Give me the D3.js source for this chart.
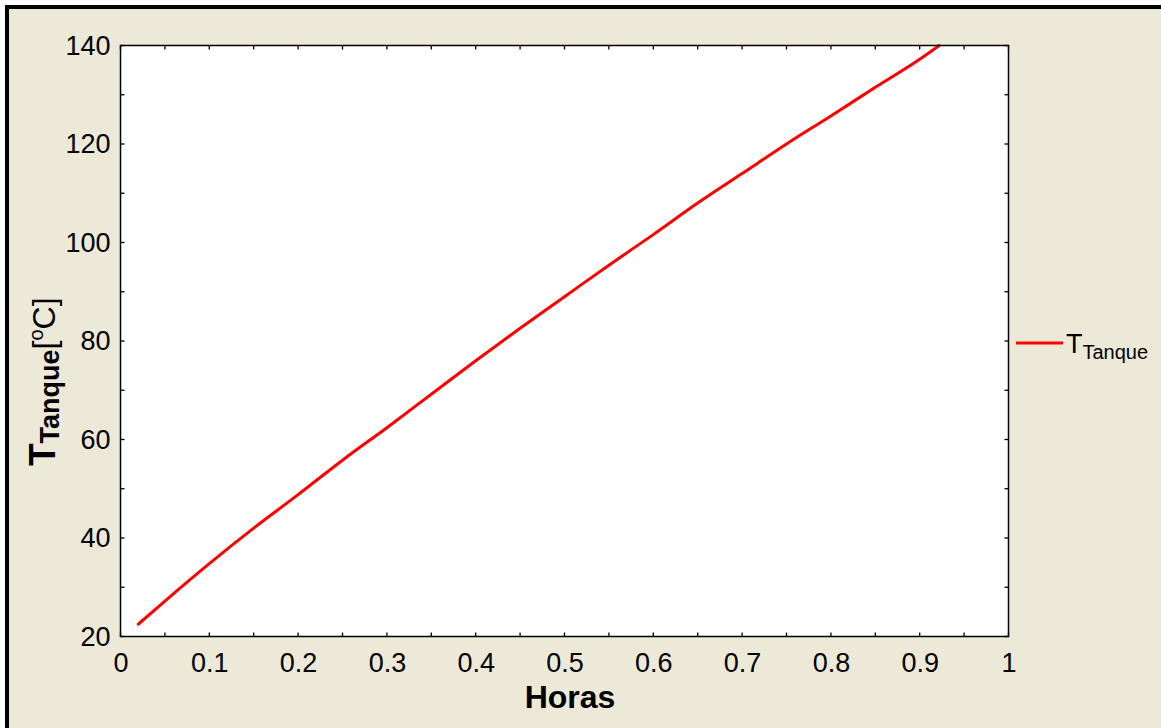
<!DOCTYPE html>
<html>
<head>
<meta charset="utf-8">
<script src="https://cdn.jsdelivr.net/npm/d3@7"></script>
<style>
  html, body { margin: 0; padding: 0; background: #ffffff; }
  svg { display: block; }
</style>
</head>
<body>
<svg id="chart" width="1161" height="728"></svg>
<script>
// Data
const horas = [0.02, 0.05, 0.1, 0.15, 0.2, 0.25, 0.3, 0.35, 0.4, 0.45, 0.5, 0.55, 0.6, 0.65, 0.7, 0.75, 0.8, 0.85, 0.9, 0.922];
const tTanque = [22.5, 27.2, 34.8, 42, 48.8, 55.8, 62.4, 69.2, 76, 82.6, 89, 95.4, 101.6, 108, 114, 120, 125.7, 131.5, 137.2, 140];
const xTicks = [0, 0.1, 0.2, 0.3, 0.4, 0.5, 0.6, 0.7, 0.8, 0.9, 1];
const xTickLabels = ["0", "0.1", "0.2", "0.3", "0.4", "0.5", "0.6", "0.7", "0.8", "0.9", "1"];
const yTicks = [20, 40, 60, 80, 100, 120, 140];
const xMinorTicks = d3.range(0, 1.0001, 0.05);
const yMinorTicks = d3.range(20, 140.001, 10);
const seriesName = "T";
const seriesSub = "Tanque";

const svg = d3.select("#chart");
const W = 1161, H = 728;
const pL = 120.5, pR = 1008.5, pT = 45.5, pB = 636.5;

// background + window frame
svg.append("rect").attr("x", 0).attr("y", 0).attr("width", W).attr("height", H).attr("fill", "#ffffff");
svg.append("rect").attr("x", 5).attr("y", 5).attr("width", W - 5).attr("height", H - 5).attr("fill", "#000000");
svg.append("rect").attr("x", 9).attr("y", 9).attr("width", W - 9).attr("height", H - 9).attr("fill", "#ECE9D8");

const x = d3.scaleLinear().domain([0, 1]).range([pL, pR]);
const y = d3.scaleLinear().domain([20, 140]).range([pB, pT]);

// plot area
svg.append("rect").attr("x", pL).attr("y", pT).attr("width", pR - pL).attr("height", pB - pT)
  .attr("fill", "#ffffff");

const tickLen = 4;
const font = "Liberation Sans, Arial, sans-serif";

// Bottom axis labels
const gx = svg.append("g").attr("transform", `translate(0,${pB})`)
  .call(d3.axisBottom(x).tickValues(xTicks).tickSize(0).tickPadding(16)
    .tickFormat((d, i) => xTickLabels[i]));
gx.select(".domain").remove();
gx.selectAll("text").attr("font-family", font).attr("font-size", 27).attr("fill", "#000");

// Left axis labels
const gy = svg.append("g").attr("transform", `translate(${pL},0)`)
  .call(d3.axisLeft(y).tickValues(yTicks).tickSize(0).tickPadding(10).tickFormat(d3.format("d")));
gy.select(".domain").remove();
gy.selectAll("text").attr("font-family", font).attr("font-size", 27).attr("fill", "#000");

// inward ticks on all four sides
const tickG = svg.append("g").attr("stroke", "#000").attr("stroke-width", 1.3);
xMinorTicks.forEach(v => {
  tickG.append("line").attr("x1", x(v)).attr("x2", x(v)).attr("y1", pB).attr("y2", pB - tickLen);
  tickG.append("line").attr("x1", x(v)).attr("x2", x(v)).attr("y1", pT).attr("y2", pT + tickLen);
});
yMinorTicks.forEach(v => {
  tickG.append("line").attr("x1", pL).attr("x2", pL + tickLen).attr("y1", y(v)).attr("y2", y(v));
  tickG.append("line").attr("x1", pR).attr("x2", pR - tickLen).attr("y1", y(v)).attr("y2", y(v));
});

// data line
const data = horas.map((h, i) => [h, tTanque[i]]);
svg.append("path").datum(data)
  .attr("fill", "none").attr("stroke", "#ff0000").attr("stroke-width", 3)
  .attr("stroke-linejoin", "round").attr("stroke-linecap", "round")
  .attr("d", d3.line().x(d => x(d[0])).y(d => y(d[1])).curve(d3.curveMonotoneX));

// frame
svg.append("rect").attr("x", pL).attr("y", pT).attr("width", pR - pL).attr("height", pB - pT)
  .attr("fill", "none").attr("stroke", "#000").attr("stroke-width", 1.5);

// X axis title
svg.append("text").attr("x", 570).attr("y", 708).attr("text-anchor", "middle")
  .attr("font-family", font).attr("font-weight", "bold").attr("font-size", 32).text("Horas");

// Y axis title
const yt = svg.append("text").attr("transform", "translate(55,466) rotate(-90)")
  .attr("font-family", font).attr("fill", "#000");
yt.append("tspan").attr("font-weight", "bold").attr("font-size", 37).text("T");
yt.append("tspan").attr("font-weight", "bold").attr("font-size", 27).attr("dy", 4).text("Tanque");
yt.append("tspan").attr("font-size", 32).attr("dy", -4).text("[");
yt.append("tspan").attr("font-size", 20).attr("dy", -12).text("o");
yt.append("tspan").attr("font-size", 32).attr("dy", 12).text("C]");

// Legend
svg.append("line").attr("x1", 1016).attr("x2", 1063).attr("y1", y(80) + 2).attr("y2", y(80) + 2)
  .attr("stroke", "#ff0000").attr("stroke-width", 3);
const lt = svg.append("text").attr("x", 1066).attr("y", 353).attr("font-family", font).attr("fill", "#000");
lt.append("tspan").attr("font-size", 27).text(seriesName);
lt.append("tspan").attr("font-size", 20).attr("dy", 6).text(seriesSub);
</script>
</body>
</html>
